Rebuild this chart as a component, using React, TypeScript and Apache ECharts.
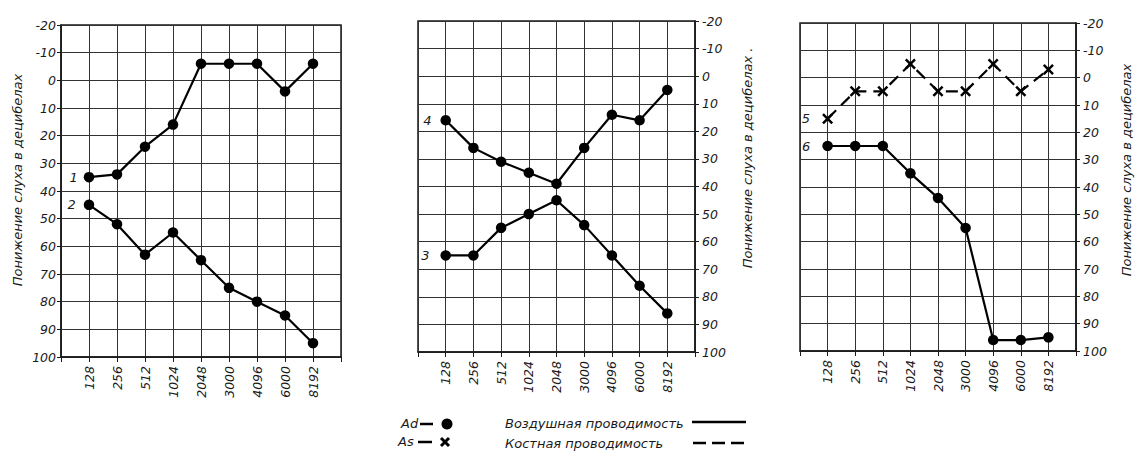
import React, { useEffect, useRef } from "react";
import * as echarts from "echarts";

// Frequencies (Hz) shown on each audiogram
const freqs = ["128", "256", "512", "1024", "2048", "3000", "4096", "6000", "8192"];
// Hearing loss axis (dB)
const dbMin = -20;
const dbMax = 100;
const dbStep = 10;

// Panel 1
const curve1 = [35, 34, 24, 16, -6, -6, -6, 4, -6];
const curve2 = [45, 52, 63, 55, 65, 75, 80, 85, 95];
// Panel 2
const curve3 = [65, 65, 55, 50, 45, 54, 65, 76, 86];
const curve4 = [16, 26, 31, 35, 39, 26, 14, 16, 5];
// Panel 3
const curve5 = [15, 5, 5, -5, 5, 5, -5, 5, -3];
const curve6 = [25, 25, 25, 35, 44, 55, 96, 96, 95];

const axisNameText = "Понижение слуха в децибелах";
const legendAir = "Воздушная проводимость";
const legendBone = "Костная проводимость";

const FONT = "DejaVu Sans";
const INK = "#1a1a1a";
const CROSS =
  "path://M0,1.6 L1.6,0 L5,3.4 L8.4,0 L10,1.6 L6.6,5 L10,8.4 L8.4,10 L5,6.6 L1.6,10 L0,8.4 L3.4,5 Z";

function buildData(values: number[], tag: string, dist: number) {
  return values.map((v, i) => {
    if (i === 0) {
      return {
        value: [i + 1, v],
        label: {
          show: true,
          position: "left",
          distance: dist,
          formatter: tag,
          fontFamily: FONT,
          fontStyle: "italic",
          fontSize: 13,
          color: INK,
        },
      };
    }
    return { value: [i + 1, v] };
  });
}

export default function App() {
  const ref = useRef<HTMLDivElement>(null);

  useEffect(() => {
    if (!ref.current) return;
    const chart = echarts.init(ref.current, null, { renderer: "svg" });

    const grids = [
      { left: 61, top: 25, width: 280, height: 332 },
      { left: 418, top: 21, width: 277, height: 331 },
      { left: 800, top: 23, width: 276, height: 328 },
    ];

    const xAxes = grids.map((_, gi) => ({
      gridIndex: gi,
      type: "value",
      min: 0,
      max: 10,
      interval: 1,
      axisLine: { show: true, onZero: false, lineStyle: { color: INK, width: 1.5 } },
      axisTick: { show: true, length: 5, lineStyle: { color: INK, width: 1 } },
      axisLabel: {
        rotate: 90,
        margin: 9,
        fontFamily: FONT,
        fontStyle: "italic",
        fontSize: 12.5,
        color: INK,
        formatter: (v: number) => freqs[v - 1] ?? "",
      },
      splitLine: { show: true, lineStyle: { color: "#333", width: 1 } },
    }));

    const yAxes = grids.map((_, gi) => ({
      gridIndex: gi,
      type: "value",
      inverse: true,
      min: dbMin,
      max: dbMax,
      interval: dbStep,
      position: gi === 0 ? "left" : "right",
      axisLine: { show: true, onZero: false, lineStyle: { color: INK, width: 1.5 } },
      axisTick: { show: true, length: 4, lineStyle: { color: INK, width: 1 } },
      axisLabel: {
        margin: gi === 0 ? 5 : 7,
        fontFamily: FONT,
        fontStyle: "italic",
        fontSize: 12.5,
        color: INK,
        padding: gi === 0 ? [0, 0, 4, 0] : [0, 0, 9, 0],
      },
      splitLine: { show: true, lineStyle: { color: "#333", width: 1 } },
    }));

    const solid = (name: string, values: number[], gi: number, tag: string, dist: number) => ({
      name,
      type: "line",
      xAxisIndex: gi,
      yAxisIndex: gi,
      data: buildData(values, tag, dist),
      symbol: "circle",
      symbolSize: 10.5,
      lineStyle: { color: "#000", width: 2.2 },
      itemStyle: { color: "#000" },
    });

    const series = [
      solid("1", curve1, 0, "1", 6),
      solid("2", curve2, 0, "2", 8),
      solid("3", curve3, 1, "3", 11),
      solid("4", curve4, 1, "4", 9),
      {
        name: "5",
        type: "line",
        xAxisIndex: 2,
        yAxisIndex: 2,
        data: buildData(curve5, "5", 12),
        symbol: CROSS,
        symbolSize: 11,
        lineStyle: { color: "#000", width: 2.2, type: [12, 7] },
        itemStyle: { color: "#000" },
      },
      solid("6", curve6, 2, "6", 12),
    ];

    const txt = (x: number, y: number, text: string, size = 13, rot = 0) => ({
      type: "text",
      x,
      y,
      rotation: rot,
      style: {
        text,
        fontFamily: FONT,
        fontStyle: "italic",
        fontSize: size,
        fill: INK,
        align: rot ? "center" : "left",
        verticalAlign: "middle",
      },
    });

    const graphic = [
      txt(17, 180, axisNameText, 13, Math.PI / 2),
      txt(747, 158, axisNameText + " .", 13, Math.PI / 2),
      txt(1126, 170, axisNameText, 13, Math.PI / 2),
      // legend
      txt(401, 423, "Ad", 13),
      { type: "line", shape: { x1: 420, y1: 424, x2: 433, y2: 424 }, style: { stroke: "#000", lineWidth: 2.5 } },
      { type: "circle", shape: { cx: 447, cy: 424, r: 5.5 }, style: { fill: "#000" } },
      txt(398, 441, "As", 13),
      { type: "line", shape: { x1: 418, y1: 442, x2: 432, y2: 442 }, style: { stroke: "#000", lineWidth: 2.5 } },
      { type: "line", shape: { x1: 441, y1: 438, x2: 449, y2: 446 }, style: { stroke: "#000", lineWidth: 3 } },
      { type: "line", shape: { x1: 441, y1: 446, x2: 449, y2: 438 }, style: { stroke: "#000", lineWidth: 3 } },
      txt(505, 423, legendAir, 13),
      { type: "line", shape: { x1: 692, y1: 422, x2: 746, y2: 422 }, style: { stroke: "#000", lineWidth: 2.5 } },
      txt(505, 443, legendBone, 13),
      {
        type: "line",
        shape: { x1: 693, y1: 443, x2: 748, y2: 443 },
        style: { stroke: "#000", lineWidth: 2.5, lineDash: [13, 6] },
      },
    ];

    chart.setOption({
      animation: false,
      backgroundColor: "#fff",
      grid: grids.map((g) => ({ ...g, show: true, borderColor: INK, borderWidth: 1.5, containLabel: false })),
      xAxis: xAxes,
      yAxis: yAxes,
      series,
      graphic,
    } as any);

    return () => chart.dispose();
  }, []);

  return (
    <div
      ref={ref}
      style={{ position: "fixed", left: 0, top: 0, width: 1135, height: 458, background: "#fff" }}
    />
  );
}
